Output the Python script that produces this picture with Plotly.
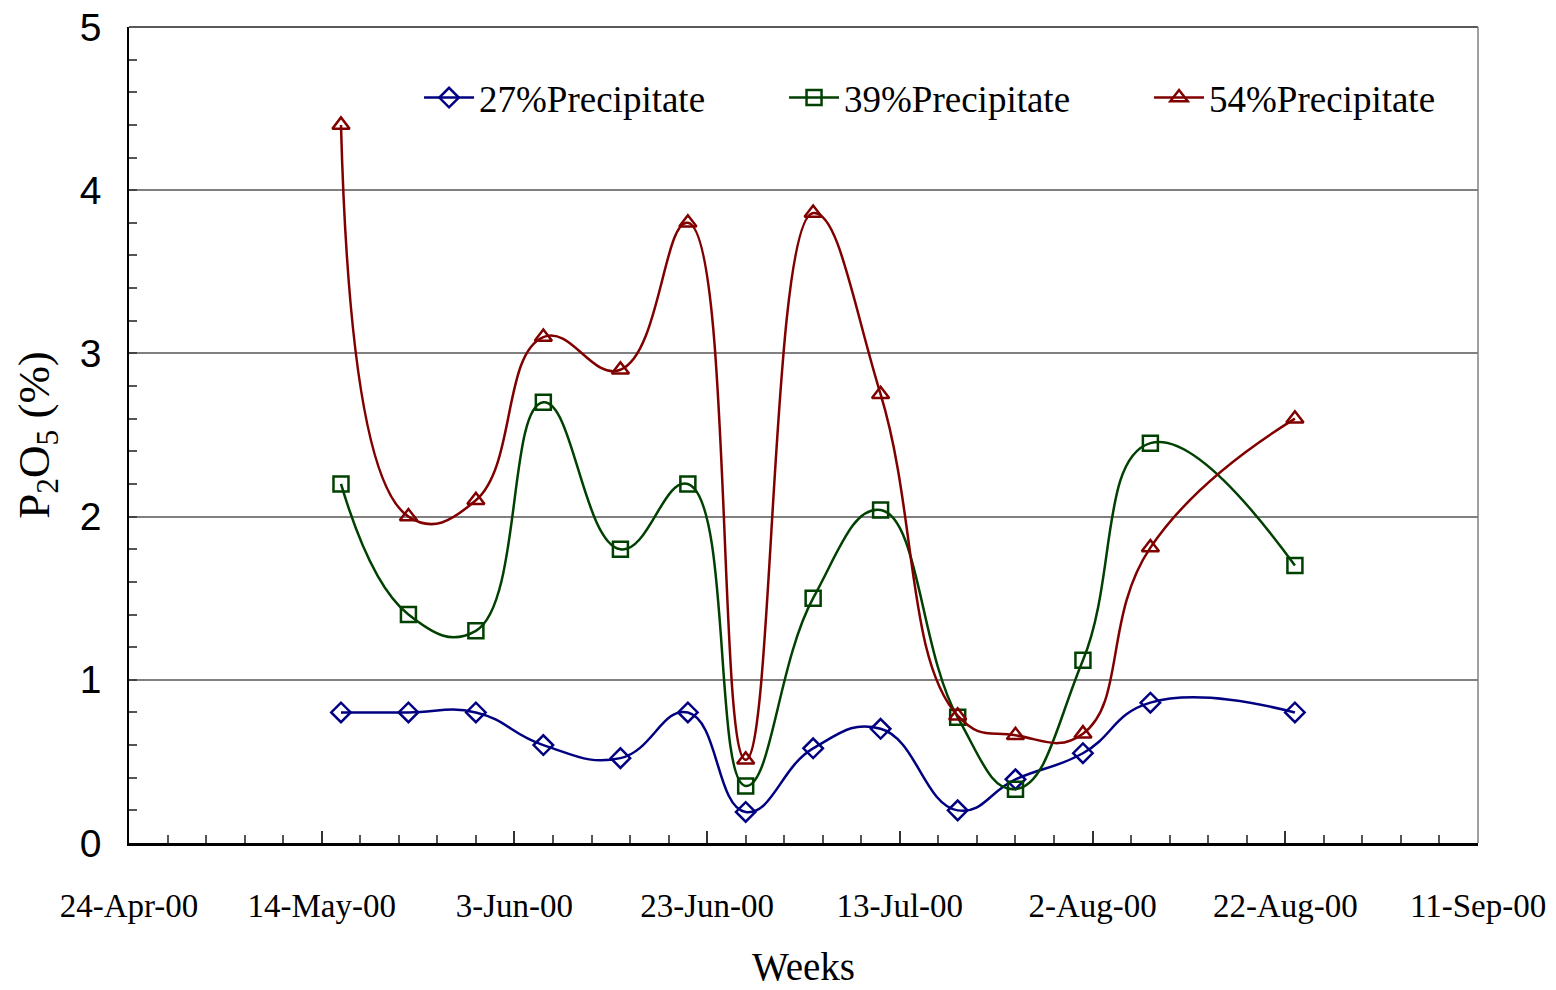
import plotly.graph_objects as go

# Sampling dates (weekly collections, 2000)
dates = ["2000-05-16", "2000-05-23", "2000-05-30", "2000-06-06", "2000-06-14",
         "2000-06-21", "2000-06-27", "2000-07-04", "2000-07-11", "2000-07-19",
         "2000-07-25", "2000-08-01", "2000-08-08", "2000-08-23"]

# P2O5 content (%) of each precipitate fraction
p27 = [0.80, 0.80, 0.80, 0.60, 0.52, 0.80, 0.19, 0.58, 0.70, 0.20, 0.39, 0.55, 0.86, 0.80]
p39 = [2.20, 1.40, 1.30, 2.70, 1.80, 2.20, 0.35, 1.50, 2.04, 0.77, 0.33, 1.12, 2.45, 1.70]
p54 = [4.40, 2.00, 2.10, 3.10, 2.90, 3.80, 0.51, 3.86, 2.75, 0.78, 0.66, 0.67, 1.81, 2.60]

series_names = ["27%Precipitate", "39%Precipitate", "54%Precipitate"]
series_colors = ["#000080", "#004000", "#800000"]
series_symbols = ["diamond-open", "square-open", "triangle-up-open"]

x_range = ["2000-04-24", "2000-09-11"]
DAY = 86400000

serif = "Liberation Serif, Times New Roman, serif"
sans = "Liberation Sans, Arial, sans-serif"

fig = go.Figure()
for name, vals, col, sym in zip(series_names, [p27, p39, p54], series_colors, series_symbols):
    fig.add_trace(go.Scatter(
        x=dates, y=vals, name=name, mode="lines+markers",
        line=dict(color=col, width=2.5, shape="spline", smoothing=1.3),
        marker=dict(symbol=sym, size=15, color=col, line=dict(color=col, width=2.5)),
    ))

fig.update_layout(
    width=1556, height=990,
    margin=dict(l=129, r=78, t=27, b=147, autoexpand=False),
    paper_bgcolor="white", plot_bgcolor="white",
    showlegend=True,
    legend=dict(
        orientation="h", x=0.215, xanchor="left", y=0.913, yanchor="middle",
        font=dict(family=serif, size=37, color="black"),
        bgcolor="rgba(0,0,0,0)", itemwidth=50,
        entrywidth=300, entrywidthmode="pixels",
    ),
    xaxis=dict(
        type="date", range=x_range, automargin=False,
        tick0=x_range[0], dtick=20 * DAY, tickformat="%-d-%b-%y",
        ticks="inside", ticklen=12, tickwidth=1.5, tickcolor="#333333",
        minor=dict(dtick=4 * DAY, tick0=x_range[0], ticks="inside", ticklen=8,
                   tickwidth=1.5, tickcolor="#555555", showgrid=False),
        showline=True, linecolor="black", linewidth=2.5,
        showgrid=False, zeroline=False,
        tickfont=dict(family=serif, size=33, color="black"),
        ticklabelstandoff=32,
        title=dict(text="Weeks", font=dict(family=serif, size=39, color="black"), standoff=30),
    ),
    yaxis=dict(
        range=[0, 5], dtick=1, tick0=0, automargin=False,
        ticks="inside", ticklen=8, tickwidth=1.5, tickcolor="#444444",
        minor=dict(dtick=0.2, ticks="inside", ticklen=8, tickwidth=1.5,
                   tickcolor="#555555", showgrid=False),
        showline=True, linecolor="black", linewidth=1.5,
        showgrid=True, gridcolor="#808080", gridwidth=1.5, zeroline=False,
        tickfont=dict(family=sans, size=39, color="black"),
        ticklabelstandoff=18,
        title=dict(text="P<sub>2</sub>O<sub>5</sub> (%)",
                   font=dict(family=serif, size=45, color="black"), standoff=16),
    ),
    shapes=[
        dict(type="line", xref="paper", yref="paper", x0=0, x1=1, y0=1, y1=1,
             line=dict(color="#222222", width=1.5)),
        dict(type="line", xref="paper", yref="paper", x0=1, x1=1, y0=0, y1=1,
             line=dict(color="#808080", width=1.5)),
    ],
)

fig.write_html("out.html")
